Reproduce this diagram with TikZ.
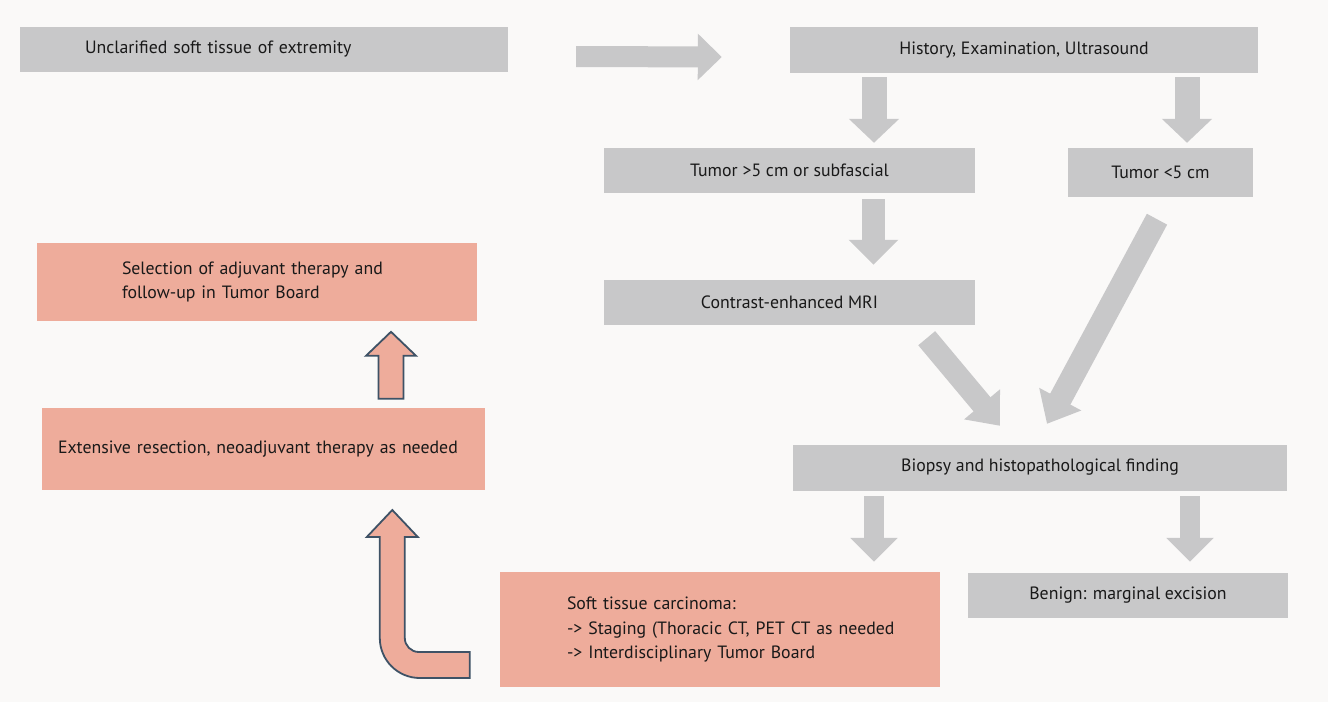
\documentclass[tikz,border=0pt]{standalone}
\usepackage{fontspec}
\setmainfont{PT Sans}
\usepackage{tikz}
\usetikzlibrary{arrows.meta}
\usetikzlibrary{calc}
\definecolor{boxgray}{RGB}{200,200,201}
\definecolor{boxpink}{RGB}{238,172,155}
\definecolor{edgeblue}{RGB}{62,82,102}
\definecolor{bgwhite}{RGB}{250,249,248}
\definecolor{textdark}{RGB}{25,25,25}
\tikzstyle{graybox} = [rectangle, inner sep=0pt, text centered, draw=none, fill=boxgray,
  text=textdark, font=\fontsize{17.8}{24.5}\selectfont]
\tikzstyle{pinkbox} = [graybox, fill=boxpink]
\tikzstyle{leftbox} = [align=left, text ragged]
\tikzstyle{grayarrow} = [draw=boxgray, line width=25pt, -{Triangle[length=24pt, width=49pt]}]
\tikzstyle{slimarrow} = [grayarrow, line width=21pt, -{Triangle[length=24pt, width=45pt]}]
\tikzstyle{pinkarrow} = [draw=edgeblue, line width=1.8pt, fill=boxpink, line join=miter]

\begin{document}
\begin{tikzpicture}[x=1pt, y=-1pt]
  \fill[bgwhite] (0,0) rectangle (1328,702);
  \useasboundingbox (0,0) rectangle (1328,702);
  % right column, grey boxes
  \node (unclar) [graybox, leftbox, minimum width=488pt, minimum height=45pt, inner xsep=65pt,
    text width=358pt] at (264,49.5) {\mbox{Unclarified soft tissue of extremity}};
  \node (hist) [graybox, minimum width=468pt, minimum height=46pt] at (1024,50) {History, Examination, Ultrasound};
  \node (tumbig) [graybox, minimum width=371pt, minimum height=45pt] at (789.5,170.5) {Tumor >5 cm or subfascial};
  \node (tumsmall) [graybox, minimum width=185pt, minimum height=49pt] at (1160.5,172.5) {Tumor <5 cm};
  \node (mri) [graybox, minimum width=371pt, minimum height=45pt] at (789.5,302.5) {Contrast-enhanced MRI};
  \node (biopsy) [graybox, minimum width=494pt, minimum height=46pt] at (1040,467.5) {Biopsy and histopathological finding};
  \node (benign) [graybox, minimum width=320pt, minimum height=45pt] at (1128,595) {Benign: marginal excision};
  % pink boxes
  \node (carc) [pinkbox, leftbox, minimum width=440pt, minimum height=115pt, inner xsep=67pt,
    text width=306pt] at (720,629.5) {\mbox{Soft tissue carcinoma:}\\
    \mbox{-{}> Staging (Thoracic CT, PET CT as needed}\\
    \mbox{-{}> Interdisciplinary Tumor Board}};
  \node (resect) [pinkbox, leftbox, minimum width=443pt, minimum height=82pt, inner xsep=16pt,
    text width=411pt] at (263.5,449) {\mbox{Extensive resection, neoadjuvant therapy as needed}};
  \node (adjuv) [pinkbox, leftbox, minimum width=440pt, minimum height=78pt, inner xsep=85pt,
    text width=270pt] at (257,282) {\mbox{Selection of adjuvant therapy and}\\
    \mbox{follow-up in Tumor Board}};

  \draw [slimarrow] ([xshift=68pt,yshift=-7pt]unclar.east) -- ([xshift=-68pt,yshift=-7pt]hist.west);
  \draw [grayarrow] ([xshift=-150pt,yshift=-4pt]hist.south) -- ([xshift=84.5pt,yshift=5pt]tumbig.north);
  \draw [grayarrow] ([xshift=163pt,yshift=-4pt]hist.south) -- ([xshift=26.5pt,yshift=5pt]tumsmall.north);
  \draw [grayarrow, line width=23pt, -{Triangle[length=25pt, width=48pt]}]
    ([xshift=84pt,yshift=-6pt]tumbig.south) -- ([xshift=84pt,yshift=15pt]mri.north);
  \draw [slimarrow, line width=22pt, -{Triangle[length=28pt, width=45pt]}]
    ([xshift=-48.5pt,yshift=-13pt]mri.south east) -- ([xshift=-40pt,yshift=18.5pt]biopsy.north);
  \draw [slimarrow, line width=23pt, -{Triangle[length=28pt, width=46pt]}]
    ([xshift=-3.5pt,yshift=-22pt]tumsmall.south) -- ([xshift=7pt,yshift=20.5pt]biopsy.north);
  \draw [slimarrow, line width=20pt, -{Triangle[length=24pt, width=46pt]}]
    ([xshift=-166pt,yshift=-5.5pt]biopsy.south) -- ([xshift=154pt,yshift=10pt]carc.north);
  \draw [slimarrow, line width=20pt, -{Triangle[length=24pt, width=46pt]}]
    ([xshift=150pt,yshift=-5.5pt]biopsy.south) -- ([xshift=62pt,yshift=10.5pt]benign.north);

  % outlined block arrows on the left
  \draw [pinkarrow] ([xshift=-30pt,yshift=-22.5pt]carc.west) [rounded corners=14pt] -- ++(-65,0)
    [sharp corners] -- ++(0,-115) -- ++(13,0) -- ++(-25.5,-27) -- ++(-25.5,27) -- ++(13,0)
    [rounded corners=40pt] -- ++(0,141) [sharp corners] -- ++(90,0) -- cycle;
  \draw [pinkarrow] ([xshift=115pt,yshift=9pt]resect.north) -- ++(0,-43) -- ++(-12.5,0)
    -- ++(25,-24) -- ++(25,24) -- ++(-12.5,0) -- ++(0,43) -- cycle;
\end{tikzpicture}
\end{document}
